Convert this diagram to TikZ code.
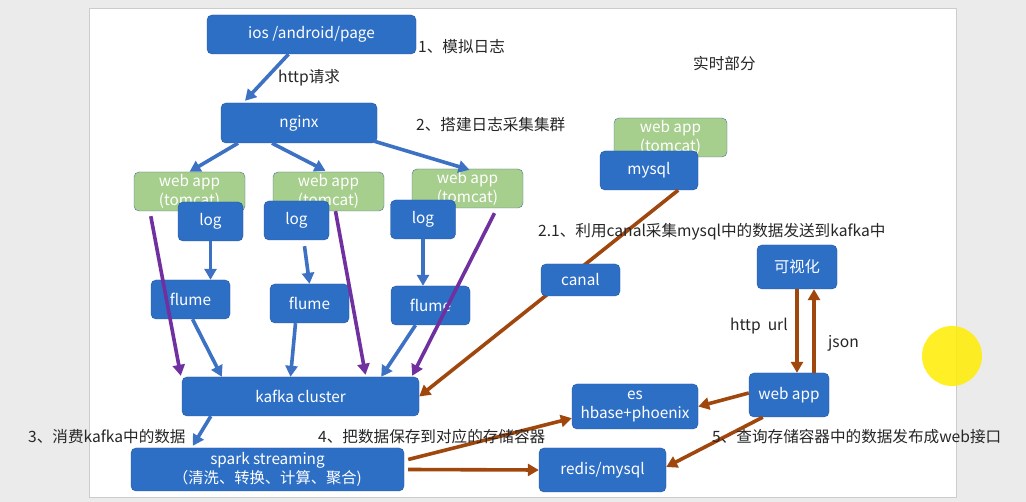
\documentclass[tikz,border=0pt]{standalone}
\usepackage{fontspec}
\setmainfont{Noto Sans CJK SC}
\usetikzlibrary{arrows.meta}
\definecolor{boxblue}{HTML}{2E6FC6}
\definecolor{boxline}{HTML}{24549C}
\definecolor{appgreen}{HTML}{A6CE8C}
\definecolor{appline}{HTML}{4F7393}
\definecolor{flowblue}{HTML}{3C71C4}
\definecolor{flowpurple}{HTML}{7030A0}
\definecolor{flowbrown}{HTML}{A0470D}
\definecolor{pagegrey}{HTML}{EBEBEB}
\begin{document}
\begin{tikzpicture}[x=1pt,y=-1pt,
  sz/.style 2 args={minimum width=#1pt,minimum height=#2pt},
  box/.style={draw=boxline,fill=boxblue,rounded corners=5pt,text=white,align=center,inner sep=0pt,font=\fontsize{15.3}{19}\selectfont},
  appbox/.style={box,draw=appline,fill=appgreen},
  blueflow/.style={draw=flowblue,line width=3.6pt,-{Triangle[length=11pt,width=12pt]}},
  purpleflow/.style={blueflow,draw=flowpurple},
  brownflow/.style={blueflow,draw=flowbrown},
  note/.style={text=black!85,anchor=west,inner sep=0pt,font=\fontsize{15.6}{18}\selectfont}]
\useasboundingbox (0,0) rectangle (1026,502);
\fill[pagegrey] (0,0) rectangle (1026,502);
\draw[black!20,fill=white] (89,8) rectangle (956,497);
% collection side
\node[box,sz={209}{39}] (ios) at (311.5,34.5) {ios /android/page};
\node[box,sz={156}{40}] (nginx) at (299,123) {nginx};
\foreach \n/\wx/\wy/\lx/\ly/\fx/\fy in {1/189.5/191.5/210.5/221.5/190.5/299.5,
  2/328.5/191.5/296.5/220.5/309.5/303.5, 3/467.5/188.5/423/219.5/430.5/305.5}{
  \node[appbox,sz={111}{39}] (w\n) at (\wx,\wy) {web app\\(tomcat)};
  \node[box,sz={65}{39}] (log\n) at (\lx,\ly) {log};
  \node[box,sz={79}{39}] (f\n) at (\fx,\fy) {flume};
}
\node[box,sz={237}{39}] (kafka) at (300.5,396.5) {kafka cluster};
\node[box,sz={273}{43}] (spark) at (267.5,469.5) {spark streaming\\（清洗、转换、计算、聚合)};
% real-time side
\node[appbox,sz={113}{39}] (w4) at (670.5,137.5) {web app\\(tomcat)};
\node[box,sz={98}{39}] (mysql) at (649,170.5) {mysql};
\node[box,sz={80}{44}] (vis) at (797,267) {可视化};
\node[box,sz={80}{44}] (web) at (789,395) {web app};
\node[box,sz={126}{45}] (es) at (635,406.5) {es\\hbase+phoenix};
\node[box,sz={127}{44}] (redis) at (602.5,470) {redis/mysql};
% arrows
\draw[blueflow] ([xshift=-23pt]ios.south) -- ([xshift=-54pt,yshift=2pt]nginx.north);
\draw[blueflow] ([xshift=-61pt]nginx.south) -- (w1.north);
\draw[blueflow] ([xshift=-27pt]nginx.south) -- ([xshift=-3pt,yshift=1pt]w2.north);
\draw[blueflow] ([xshift=-3pt,yshift=2pt]nginx.south east) -- ([xshift=2pt,yshift=-1pt]w3.north);
\draw[blueflow] (log1.south) -- (log1.south |- f1.north);
\draw[blueflow] ([xshift=8pt,yshift=-6pt]log2.south) -- (f2.north);
\draw[blueflow] (log3.south) -- (log3.south |- f3.north);
\draw[blueflow] ([xshift=2pt]f1.south) -- ([xshift=40pt]kafka.north west);
\draw[blueflow] ([xshift=-14pt]f2.south) -- ([xshift=-10pt]kafka.north);
\draw[blueflow] ([xshift=-15pt]f3.south) -- ([xshift=-38pt]kafka.north east);
\draw[purpleflow] ([xshift=17pt,yshift=-5pt]w1.south west) -- ([xshift=-1pt,yshift=1pt]kafka.north west);
\draw[purpleflow] ([xshift=7pt]w2.south) -- ([xshift=65pt,yshift=2pt]kafka.north);
\draw[purpleflow] ([xshift=27pt,yshift=-5pt]w3.south) -- ([xshift=-7pt,yshift=1pt]kafka.north east);
\draw[blueflow] ([xshift=29pt]kafka.south west) -- ([xshift=62pt,yshift=2pt]spark.north west);
\draw[brownflow] ([xshift=-20pt]mysql.south east) -- (kafka.east);
\node[box,sz={79}{32}] (canal) at (580.5,280) {canal};
\draw[brownflow] ([xshift=4pt,yshift=10pt]spark.east) -- ([yshift=11pt]es.south west);
\draw[brownflow] ([xshift=4pt]spark.east) -- (redis.west);
\draw[brownflow] ([yshift=2pt]web.west) -- (es.east);
\draw[brownflow] ([xshift=14pt]web.south west) -- ([yshift=3pt]redis.east);
\draw[brownflow] (vis.south) -- (vis.south |- web.north);
\draw[brownflow] ([xshift=25pt]web.north) -- ([xshift=25pt]web.north |- vis.south);
% notes
\node[note] (n1) at (418,47) {1、模拟日志};
\node[note] (http) at (278,78) {http请求};
\node[note] (n2) at (416,125) {2、搭建日志采集集群};
\node[note] (rt) at (693,64) {实时部分};
\node[note] (n21) at (538,232) {2.1、利用canal采集mysql中的数据发送到kafka中};
\node[note] (url) at (730,326) {http\ \ url};
\node[note] (json) at (828,343) {json};
\node[note] (n3) at (28,437) {3、消费kafka中的数据};
\node[note] (n4) at (318,437) {4、把数据保存到对应的存储容器};
\node[note] (n5) at (712,437) {5、查询存储容器中的数据发布成web接口};
% pointer highlight
\fill[yellow!95!orange,opacity=.85] (952,356) circle (30);
\end{tikzpicture}
\end{document}
